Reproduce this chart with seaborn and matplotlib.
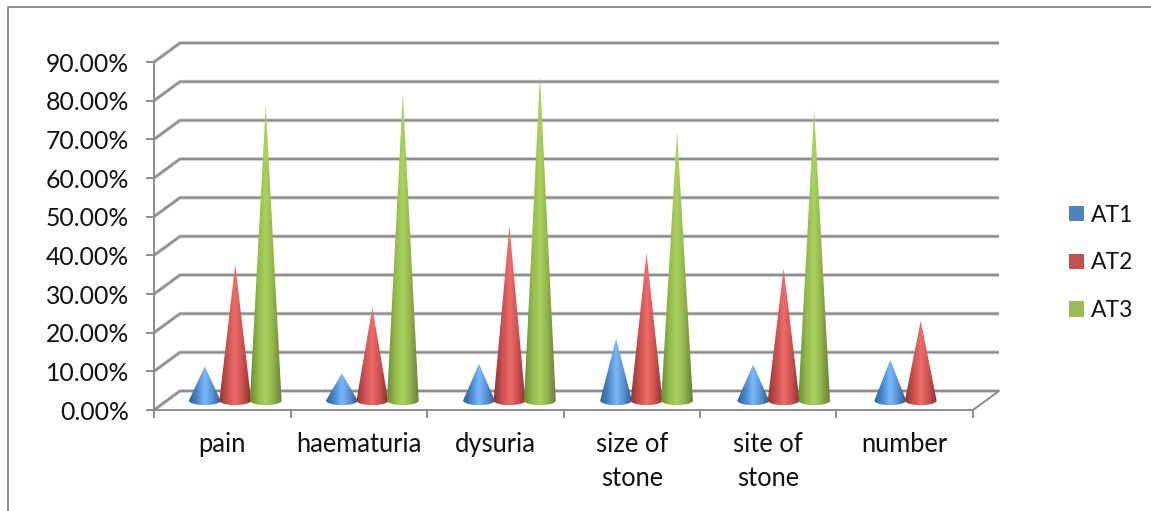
import numpy as np
import pandas as pd
import matplotlib
matplotlib.use("Agg")
import matplotlib.pyplot as plt
from matplotlib.colors import LinearSegmentedColormap
from matplotlib.lines import Line2D
from matplotlib.patches import Patch, Polygon
import seaborn as sns

# values, in percent
categories = ["pain", "haematuria", "dysuria", "size of\nstone", "site of\nstone", "number"]
at1 = [8.8, 7.0, 9.5, 16.0, 9.3, 10.5]
at2 = [35.2, 24.0, 45.0, 38.1, 34.2, 20.6]
at3 = [76.4, 79.5, 84.0, 69.5, 75.2, 0.0]
series_names = ["AT1", "AT2", "AT3"]
yticks = [0, 10, 20, 30, 40, 50, 60, 70, 80, 90]

colors = ["#4f81bd", "#c0504d", "#9bbb59"]
shades = [
    ["#2f5f96", "#4a86c8", "#7ab8ff", "#5a90cc", "#2c5a8e"],
    ["#8f3533", "#c9504e", "#ee6c6a", "#c9514f", "#8a3331"],
    ["#6c8a35", "#93ba4c", "#aad35f", "#8fb04c", "#66803a"],
]
grey = "#8c8c8c"

W, H = 1151, 511
sns.set_theme(style="white")
plt.rcParams["font.family"] = ["Lato", "DejaVu Sans"]

df = pd.DataFrame({
    "category": categories * 3,
    "series": np.repeat(series_names, len(categories)),
    "value": at1 + at2 + at3,
})

fig = plt.figure(figsize=(W / 100, H / 100), dpi=100, facecolor="white")
ax = fig.add_axes([154 / W, 1 - 410 / H, (973 - 154) / W, (410 - 62) / H])

# barplot works out the dodged positions, the bars become cones afterwards
sns.barplot(data=df, x="category", y="value", hue="series", order=categories,
            hue_order=series_names, width=0.67, gap=0, legend=False, ax=ax)
ax.set_xlim(-0.5, 5.5)
ax.set_ylim(0, 90)
ax.set_xlabel("")
ax.set_ylabel("")

# depth of the fake 3d box, in data units
depth_x = 26 / 136.5
depth_y = 19 / 3.867
base_y = 2.46
ell_y = 1.2
drift = 0.6 / 136.5  # cones sit a little further apart than the ticks

# walls and floor
for t in yticks:
    ax.plot([-0.5, -0.5 + depth_x, 5.5 + depth_x], [t, t + depth_y, t + depth_y],
            color="#c4c4c4", lw=2.6, clip_on=False, zorder=1, solid_capstyle="butt")
    ax.plot([-0.5, -0.5 + depth_x, 5.5 + depth_x], [t, t + depth_y, t + depth_y],
            color=grey, lw=1.4, clip_on=False, zorder=1.1, solid_capstyle="butt")
ax.plot([5.5, 5.5 + depth_x], [0, depth_y], color=grey, lw=1.4, clip_on=False, zorder=1.1)

n_cat = len(categories)
for i, bar in enumerate(ax.patches):
    bar.set_visible(False)
    height = bar.get_height()
    if not height > 0:
        continue
    s = i // n_cat
    cx = bar.get_x() + bar.get_width() / 2 + depth_x / 2 + drift * (i % n_cat)
    half = bar.get_width() / 2 * 1.04
    t = np.linspace(np.pi, 2 * np.pi, 40)
    xs = cx + half * np.cos(t)
    ys = base_y + ell_y * np.sin(t)
    pts = [(cx, base_y + height)] + list(zip(xs, ys))
    cmap = LinearSegmentedColormap.from_list(series_names[s], shades[s])
    im = ax.imshow(np.linspace(0, 1, 64)[None, :], cmap=cmap, aspect="auto",
                   extent=[cx - half, cx + half, base_y - ell_y, base_y + height],
                   interpolation="bilinear", zorder=3 + s, clip_on=True)
    im.set_clip_path(Polygon(pts, closed=True, transform=ax.transData))

ax.set_xlim(-0.5, 5.5)
ax.set_ylim(0, 90)

for name in ["top", "right"]:
    ax.spines[name].set_visible(False)
for name in ["left", "bottom"]:
    ax.spines[name].set_color(grey)
    ax.spines[name].set_linewidth(1.4)
    ax.spines[name].set_zorder(2)

ax.set_yticks(yticks)
ax.set_yticklabels(["%.2f%%" % t for t in yticks], fontsize=17.8, color="#111111")
boundaries = np.arange(-0.5, n_cat, 1)
ax.set_xticks(boundaries)
ax.set_xticklabels([])
ax.set_xticks(np.arange(n_cat), minor=True)
ax.set_xticklabels(categories, minor=True, fontsize=18.4, color="#111111", linespacing=1.42)
ax.tick_params(axis="y", which="major", left=True, length=6, width=1.4, color=grey, pad=12)
ax.tick_params(axis="x", which="major", bottom=True, length=6, width=1.4, color=grey)
ax.tick_params(axis="x", which="minor", bottom=False, length=0, pad=16)

handles = [Patch(facecolor=c, edgecolor="none") for c in colors]
fig.legend(handles, series_names, loc="upper left", bbox_to_anchor=(1048 / W, 1 - 184 / H),
           frameon=False, fontsize=16.5, labelspacing=1.17, handlelength=0.68,
           handleheight=0.68, handletextpad=0.3, labelcolor="#111111")

# outer chart border, only top and left are in the crop
fig.add_artist(Line2D([8 / W, 8 / W, 1], [0, 1 - 7 / H, 1 - 7 / H], color="#868686", lw=1.3))

fig.savefig("out.png", dpi=100)
